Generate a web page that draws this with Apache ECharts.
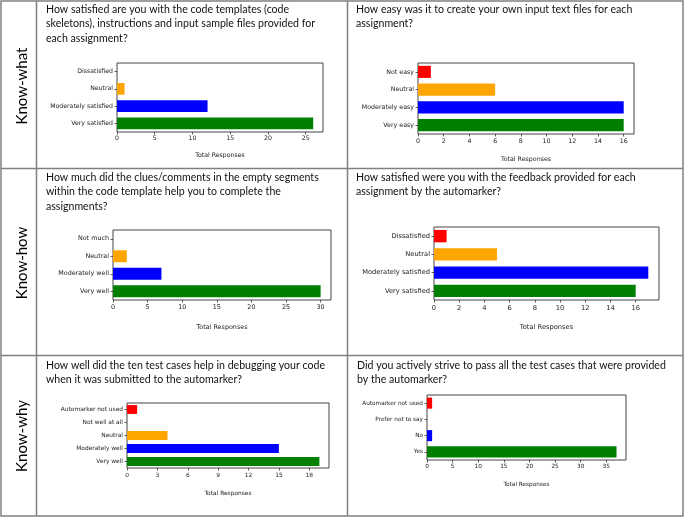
<!DOCTYPE html>
<html>
<head>
<meta charset="utf-8">
<script src="https://cdn.jsdelivr.net/npm/echarts@6/dist/echarts.min.js"></script>
<style>
html,body{margin:0;padding:0;background:#fff;}
#c{width:685px;height:518px;}
</style>
</head>
<body>
<div id="c"></div>
<script>
// ---------- data ----------
var rowLabels = ['Know-what', 'Know-how', 'Know-why'];

var q1 = 'How satisfied are you with the code templates (code\nskeletons), instructions and input sample files provided for\neach assignment?';
var cats1 = ['Dissatisfied', 'Neutral', 'Moderately satisfied', 'Very satisfied'];
var vals1 = [0, 1, 12, 26];
var ticks1 = [0, 5, 10, 15, 20, 25];

var q2 = 'How easy was it to create your own input text files for each\nassignment?';
var cats2 = ['Not easy', 'Neutral', 'Moderately easy', 'Very easy'];
var vals2 = [1, 6, 16, 16];
var ticks2 = [0, 2, 4, 6, 8, 10, 12, 14, 16];

var q3 = 'How much did the clues/comments in the empty segments\nwithin the code template help you to complete the\nassignments?';
var cats3 = ['Not much', 'Neutral', 'Moderately well', 'Very well'];
var vals3 = [0, 2, 7, 30];
var ticks3 = [0, 5, 10, 15, 20, 25, 30];

var q4 = 'How satisfied were you with the feedback provided for each\nassignment by the automarker?';
var cats4 = ['Dissatisfied', 'Neutral', 'Moderately satisfied', 'Very satisfied'];
var vals4 = [1, 5, 17, 16];
var ticks4 = [0, 2, 4, 6, 8, 10, 12, 14, 16];

var q5 = 'How well did the ten test cases help in debugging your code\nwhen it was submitted to the automarker?';
var cats5 = ['Automarker not used', 'Not well at all', 'Neutral', 'Moderately well', 'Very well'];
var vals5 = [1, 0, 4, 15, 19];
var ticks5 = [0, 3, 6, 9, 12, 15, 18];

var q6 = 'Did you actively strive to pass all the test cases that were provided\nby the automarker?';
var cats6 = ['Automarker not used', 'Prefer not to say', 'No', 'Yes'];
var vals6 = [1, 0, 1, 37];
var ticks6 = [0, 5, 10, 15, 20, 25, 30, 35];

var axisTitle = 'Total Responses';

// ---------- styles / layout ----------
var RED = '#ff0000', ORANGE = '#ffa500', BLUE = '#0000ff', GREEN = '#008000';
var pal4 = [RED, ORANGE, BLUE, GREEN];
var pal5 = [RED, '#888888', ORANGE, BLUE, GREEN];

var charts = [
  {q: q1, cats: cats1, vals: vals1, ticks: ticks1, pal: pal4, qx: 46, qy: 2,
   g: {left: 117, top: 63, width: 206, height: 69}, fs: 6.2, gap: 20, lm: 3.5},
  {q: q2, cats: cats2, vals: vals2, ticks: ticks2, pal: pal4, qx: 356, qy: 2,
   g: {left: 418, top: 63, width: 216, height: 71}, fs: 6.3, gap: 22, lm: 4},
  {q: q3, cats: cats3, vals: vals3, ticks: ticks3, pal: pal4, qx: 46, qy: 170,
   g: {left: 113, top: 230, width: 218, height: 70}, fs: 6.4, gap: 24, lm: 4.5},
  {q: q4, cats: cats4, vals: vals4, ticks: ticks4, pal: pal4, qx: 356, qy: 170,
   g: {left: 434, top: 227, width: 225, height: 73}, fs: 6.7, gap: 24, lm: 4.5},
  {q: q5, cats: cats5, vals: vals5, ticks: ticks5, pal: pal5, qx: 46, qy: 358,
   g: {left: 127, top: 403, width: 202, height: 65}, fs: 5.9, gap: 22, lm: 4.5},
  {q: q6, cats: cats6, vals: vals6, ticks: ticks6, pal: pal4, qx: 357, qy: 358,
   g: {left: 427, top: 395, width: 199, height: 65}, fs: 5.75, gap: 21, lm: 3.5}
];

var TICKFONT = '"DejaVu Sans", sans-serif';
var TEXTFONT = 'Lato, "Noto Sans", sans-serif';
var LINE = '#808080';

var grids = [], xAxes = [], yAxes = [], series = [], graphics = [];

// table lines
graphics.push({type: 'rect', shape: {x: 1, y: 1, width: 682, height: 515},
  style: {fill: null, stroke: LINE, lineWidth: 1.5}, silent: true});
[36.5, 347.5].forEach(function (x) {
  graphics.push({type: 'line', shape: {x1: x, y1: 1, x2: x, y2: 516},
    style: {stroke: LINE, lineWidth: 1.5}, silent: true});
});
[168.5, 355.5].forEach(function (y) {
  graphics.push({type: 'line', shape: {x1: 1, y1: y, x2: 683, y2: y},
    style: {stroke: LINE, lineWidth: 1.5}, silent: true});
});
// row labels
var rowCenters = [86, 263, 436];
rowLabels.forEach(function (t, i) {
  graphics.push({type: 'text', x: 22, y: rowCenters[i], rotation: Math.PI / 2,
    style: {text: t, font: '15px ' + TEXTFONT, fill: '#000', align: 'center', verticalAlign: 'middle'},
    silent: true});
});

charts.forEach(function (c, i) {
  graphics.push({type: 'text', x: c.qx, y: c.qy,
    style: {text: c.q, font: '10.6px ' + TEXTFONT, fill: '#111', lineHeight: 14.5,
      align: 'left', verticalAlign: 'top'}, silent: true});

  grids.push({left: c.g.left, top: c.g.top, width: c.g.width, height: c.g.height,
    show: true, borderColor: '#444', borderWidth: 1, backgroundColor: '#fff'});

  xAxes.push({type: 'value', gridIndex: i, min: 0,
    max: function (v) { return v.max * 1.05; },
    name: axisTitle, nameLocation: 'middle', nameGap: c.gap,
    nameTextStyle: {fontFamily: TICKFONT, fontSize: c.fs, color: '#222'},
    axisLine: {show: false},
    axisTick: {show: true, length: 2.5, lineStyle: {color: '#333', width: 0.8}, customValues: c.ticks},
    axisLabel: {fontFamily: TICKFONT, fontSize: c.fs, color: '#222', margin: c.lm, customValues: c.ticks},
    splitLine: {show: false}});

  yAxes.push({type: 'category', gridIndex: i, data: c.cats, inverse: true,
    axisLine: {show: false},
    axisTick: {show: true, alignWithLabel: true, length: 2.5, lineStyle: {color: '#333', width: 0.8}},
    axisLabel: {fontFamily: TICKFONT, fontSize: c.fs, color: '#222', margin: 4},
    splitLine: {show: false}});

  series.push({type: 'bar', xAxisIndex: i, yAxisIndex: i, data: c.vals,
    barWidth: '68%', silent: true, animation: false,
    itemStyle: {color: function (p) { return c.pal[p.dataIndex]; }}});
});

var chart = echarts.init(document.getElementById('c'), null, {renderer: 'canvas'});
chart.setOption({
  animation: false,
  backgroundColor: '#fff',
  grid: grids,
  xAxis: xAxes,
  yAxis: yAxes,
  series: series,
  graphic: graphics
});
</script>
</body>
</html>
